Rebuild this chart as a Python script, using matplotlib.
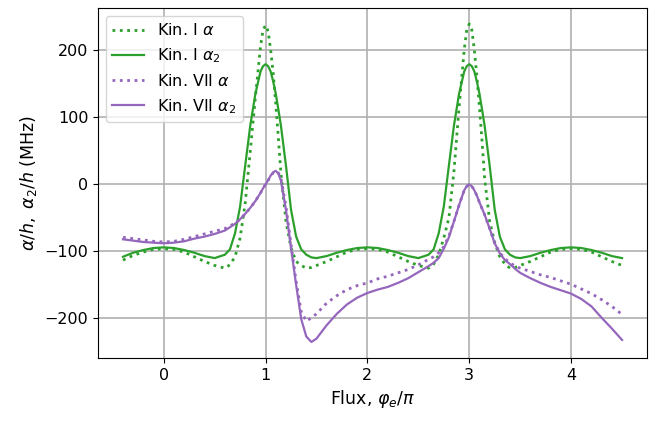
import numpy as np
import matplotlib
matplotlib.use('Agg')
from matplotlib import pyplot as plt

# flux grid (units of pi), denser around the peaks
flux = [-0.4, -0.3, -0.2, -0.1, 0.0, 0.1, 0.2, 0.3, 0.4, 0.5,
        0.6, 0.65, 0.7, 0.75, 0.8, 0.85, 0.9, 0.95, 0.975, 1.0,
        1.025, 1.05, 1.075, 1.1, 1.125, 1.15, 1.2, 1.25, 1.3, 1.35,
        1.4, 1.45, 1.5, 1.6, 1.7, 1.8, 1.9, 2.0, 2.1, 2.2,
        2.3, 2.4, 2.5, 2.6, 2.65, 2.7, 2.75, 2.8, 2.85, 2.9,
        2.95, 2.975, 3.0, 3.025, 3.05, 3.075, 3.1, 3.125, 3.15, 3.2,
        3.25, 3.3, 3.35, 3.4, 3.45, 3.5, 3.6, 3.7, 3.8, 3.9,
        4.0, 4.1, 4.2, 4.3, 4.4, 4.5]

kin1_alpha = [-113, -106, -101, -97, -96, -97, -101, -108, -115, -121,
              -125, -120, -108, -80, -28, 50, 130, 205, 230, 237,
              228, 200, 165, 120, 70, 18, -55, -95, -115, -121,
              -125, -124, -121, -115, -108, -101, -97, -96, -97, -101,
              -108, -115, -121, -125, -119, -105, -80, -50, 20, 115,
              200, 230, 239, 230, 200, 160, 115, 65, 10, -55,
              -87, -108, -119, -125, -124, -121, -115, -108, -101, -97,
              -96, -97, -101, -108, -115, -121]

kin1_alpha2 = [-108, -102, -98, -95, -94, -95, -98, -102, -107, -110,
               -105, -97, -73, -33, 28, 88, 135, 168, 176, 179,
               176, 168, 153, 135, 112, 88, 28, -38, -78, -97,
               -105, -109, -110, -107, -102, -98, -95, -94, -95, -98,
               -102, -107, -110, -105, -97, -73, -33, 28, 88, 135,
               168, 176, 179, 176, 168, 153, 135, 112, 88, 28,
               -38, -78, -97, -105, -109, -110, -107, -102, -98, -95,
               -94, -95, -98, -102, -107, -110]

kin7_alpha = [-79, -81, -83, -85, -86, -85, -82, -78, -74, -70,
              -66, -62, -58, -52, -44, -35, -25, -13, -6, 0,
              6, 12, 17, 19, 17, 10, -33, -90, -145, -190,
              -204, -199, -193, -177, -166, -157, -151, -147, -141, -137,
              -132, -127, -120, -112, -108, -102, -93, -77, -55, -31,
              -9, -3, 0, -3, -9, -17, -27, -36, -45, -66,
              -88, -102, -111, -117, -122, -125, -130, -135, -139, -144,
              -149, -156, -163, -172, -182, -194]

kin7_alpha2 = [-82, -84, -86, -87, -88, -87, -85, -81, -78, -74,
               -69, -64, -59, -52, -44, -35, -25, -13, -6, 0,
               6, 13, 18, 20, 16, 6, -38, -95, -150, -201,
               -227, -235, -230, -210, -193, -179, -169, -162, -157, -153,
               -147, -140, -131, -122, -117, -110, -96, -79, -55, -31,
               -9, -3, 0, -3, -9, -17, -27, -36, -45, -66,
               -88, -103, -113, -119, -126, -132, -140, -147, -153, -158,
               -163, -171, -182, -199, -215, -232]

green = '#2ca02c'
purple = '#9467bd'

plt.rcParams['font.size'] = 11.5

fig = plt.figure(figsize=(6.67, 4.22), dpi=100)
ax = fig.add_axes([0.147, 0.152, 0.823, 0.829])

ax.plot(flux, kin1_alpha, ':', color=green, lw=2, label=r'Kin. I $\alpha$')
ax.plot(flux, kin1_alpha2, '-', color=green, lw=1.6, label=r'Kin. I $\alpha_2$')
ax.plot(flux, kin7_alpha, ':', color=purple, lw=2, label=r'Kin. VII $\alpha$')
ax.plot(flux, kin7_alpha2, '-', color=purple, lw=1.6, label=r'Kin. VII $\alpha_2$')

ax.grid(True, color='#b0b0b0', lw=1.2)
ax.set_xticks([0, 1, 2, 3, 4])
ax.set_yticks([-200, -100, 0, 100, 200])
ax.set_xlabel(r'Flux, $\varphi_e/\pi$', fontsize=12.5)
ax.set_ylabel(r'$\alpha/h,\ \alpha_2/h$ (MHz)', fontsize=12.5)
ax.legend(loc='upper left', fontsize=11.5)

fig.savefig('out.png', dpi=100)
